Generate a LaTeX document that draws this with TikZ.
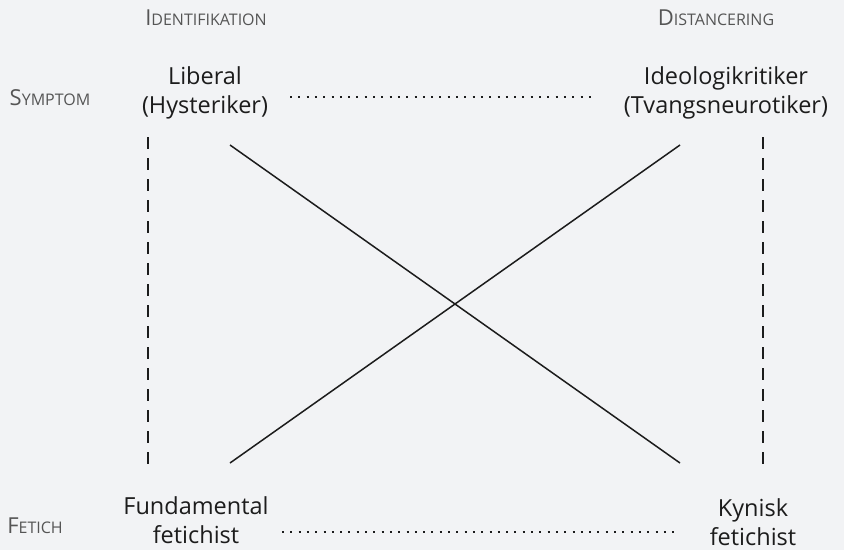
\documentclass[tikz,border=0pt]{standalone}
\usepackage{fontspec}
\setmainfont{Open Sans}
\definecolor{bg}{HTML}{F2F3F5}
\definecolor{ink}{HTML}{1C1C1C}
\definecolor{lab}{HTML}{555555}
\newcommand{\fsc}[2]{{\fontsize{22}{24}\selectfont #1}{\fontsize{16}{18}\selectfont #2}}
\begin{document}
\begin{tikzpicture}[x=1pt,y=-1pt,
  term/.style={align=center,text=ink,font=\fontsize{23.5}{28.5}\selectfont,inner sep=0pt},
  axislab/.style={text=lab,inner sep=0pt},
  dashline/.style={draw=ink,line width=2pt,dash pattern=on 12pt off 9pt},
  dotline/.style={draw=ink,line width=2pt,dash pattern=on 2pt off 6.3pt},
  cross/.style={draw=ink,line width=1.5pt}]
\path[fill=bg] (0,0) rectangle (844,550);
\node[axislab] (idl) at (206,18) {\fsc{I}{DENTIFIKATION}};
\node[axislab] (dist) at (716,18) {\fsc{D}{ISTANCERING}};
\node[axislab] (symp) at (50,98) {\fsc{S}{YMPTOM}};
\node[axislab] (fet) at (35,526) {\fsc{F}{ETICH}};
\node[term] (lib) at (205,93) {Liberal\\(Hysteriker)};
\node[term] (ideo) at (726,93) {Ideologikritiker\\(Tvangsneurotiker)};
\node[term] (fund) at (196,520) {Fundamental\\fetichist};
\node[term] (kyn) at (753,522) {Kynisk\\fetichist};
\coordinate (dl1) at (148,137); \coordinate (dl2) at (148,472);
\coordinate (dr1) at (763,137); \coordinate (dr2) at (763,472);
\coordinate (c1a) at (230,145); \coordinate (c1b) at (680,463);
\coordinate (c2a) at (680,145); \coordinate (c2b) at (230,463);
\coordinate (t1) at (290,97); \coordinate (t2) at (596,97);
\coordinate (b1) at (282,532); \coordinate (b2) at (680,532);
\draw[dashline] (dl1) -- (dl2);
\draw[dashline] (dr1) -- (dr2);
\draw[cross] (c1a) -- (c1b);
\draw[cross] (c2a) -- (c2b);
\draw[dotline] (t1) -- (t2);
\draw[dotline] (b1) -- (b2);
\end{tikzpicture}
\end{document}
